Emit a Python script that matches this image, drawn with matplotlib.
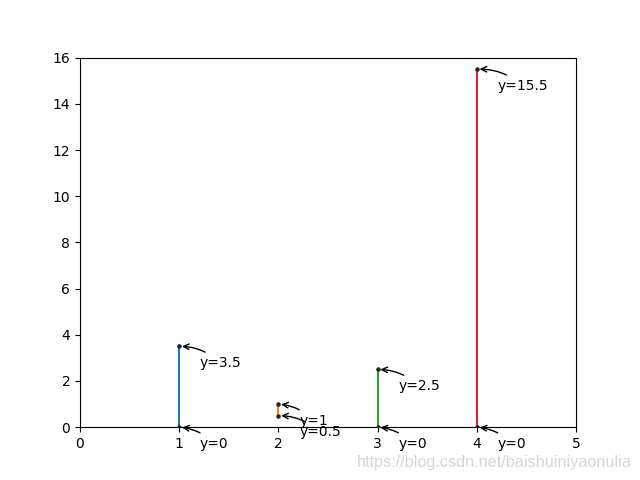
import matplotlib
matplotlib.use('Agg')
import matplotlib.pyplot as plt

x = [1, 2, 3, 4]
y_low = [0, 0.5, 0, 0]
y_high = [3.5, 1, 2.5, 15.5]
colors = ['C0', 'C1', 'C2', 'C3']

fig = plt.figure(figsize=(6.4, 4.8), dpi=100)

for xi, lo, hi, c in zip(x, y_low, y_high, colors):
    plt.plot([xi, xi], [lo, hi], color=c)
    plt.scatter([xi, xi], [lo, hi], s=5, color='#222222', zorder=3)

points = list(zip(x, y_low)) + list(zip(x, y_high))
for (xi, yi) in points:
    plt.annotate('y=%g' % yi, xy=(xi, yi), xytext=(15, -15), textcoords='offset points',
                 fontsize=10,
                 arrowprops=dict(arrowstyle='->', connectionstyle='arc3,rad=.2'))

plt.xlim(0, 5)
plt.ylim(0, 16)

# 水印
fig.text(0.988, 0.028, 'https://blog.csdn.net/baishuiniyaonulia', ha='right',
         fontsize=11.7, color='#cccccc', alpha=0.8, family='Liberation Sans')

plt.savefig('out.png')
